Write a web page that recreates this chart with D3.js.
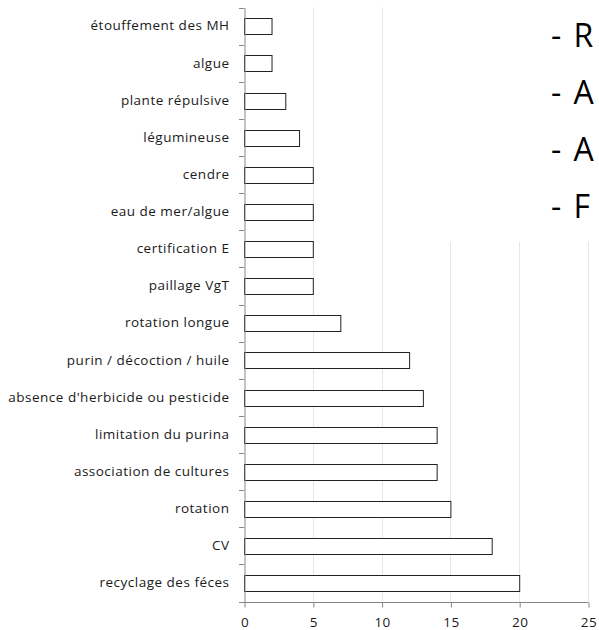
<!DOCTYPE html>
<html><head><meta charset="utf-8">
<script src="https://cdn.jsdelivr.net/npm/d3@7"></script>
<style>
html,body{margin:0;padding:0;background:#fff;}
svg{display:block;font-family:"Open Sans",sans-serif;}
</style></head><body>
<svg id="chart" width="599" height="630"></svg>
<script>
const categories = ["étouffement des MH","algue","plante répulsive","légumineuse","cendre","eau de mer/algue","certification E","paillage VgT","rotation longue","purin / décoction / huile","absence d'herbicide ou pesticide","limitation du purina","association de cultures","rotation","CV","recyclage des féces"];
const values = [2,2,3,4,5,5,5,5,7,12,13,14,14,15,18,20];
const xTicks = [0,5,10,15,20,25];
const overlayLines = ["- R","- A","- A","- F"];

const svg = d3.select("#chart");
const pL = 244, pR = 588, pT = 7.5, pB = 601.5;

const x = d3.scaleLinear().domain([0,25]).range([pL,pR]);
const y = d3.scaleBand().domain(categories).range([pT,pB]).paddingInner(0.58).paddingOuter(0.29);
const yb = d3.scaleBand().domain(categories).range([pT,pB]);

// gridlines
svg.append("g").selectAll("line").data(xTicks.slice(1)).join("line")
  .attr("x1",d=>Math.round(x(d))+0.5).attr("x2",d=>Math.round(x(d))+0.5)
  .attr("y1",pT).attr("y2",pB)
  .attr("stroke","#e6e6e6").attr("stroke-width",1);

// bars
svg.append("g").selectAll("rect").data(categories).join("rect")
  .attr("x",x(0)+0.5)
  .attr("y",(d)=>Math.round(y(d))+0.5)
  .attr("width",(d,i)=>x(values[i])-x(0))
  .attr("height",Math.round(y.bandwidth()))
  .attr("fill","#fff").attr("stroke","#222").attr("stroke-width",1);

// y axis
const yAxis = d3.axisLeft(yb).tickSize(0).tickPadding(15);
const gy = svg.append("g").attr("transform",`translate(${pL+0.5},0)`).call(yAxis);
gy.select(".domain").attr("stroke","#868686");
gy.selectAll("text").attr("font-size","13.5px").attr("letter-spacing","0.5px").attr("fill","#1a1a1a").attr("font-family","'Open Sans',sans-serif");
// band boundary ticks
svg.append("g").selectAll("line").data(d3.range(categories.length+1)).join("line")
  .attr("x1",pL-5).attr("x2",pL)
  .attr("y1",i=>Math.round(pT+i*yb.step())+0.5).attr("y2",i=>Math.round(pT+i*yb.step())+0.5)
  .attr("stroke","#868686");

// x axis
const xAxis = d3.axisBottom(x).tickValues(xTicks).tickSize(5).tickPadding(10).tickFormat(d3.format("d"));
const gx = svg.append("g").attr("transform",`translate(0.5,${Math.round(pB)+0.5})`).call(xAxis);
gx.select(".domain").attr("stroke","#868686").attr("d",`M${pL-5},0H${pR}`);
gx.selectAll(".tick line").attr("stroke","#868686");
gx.selectAll("text").attr("font-size","13.5px").attr("letter-spacing","0.5px").attr("fill","#1a1a1a").attr("font-family","'Open Sans',sans-serif");

// overlay text box
svg.append("rect").attr("x",445).attr("y",0).attr("width",154).attr("height",242).attr("fill","#fff");
svg.append("g").selectAll("text").data(overlayLines).join("text")
  .attr("x",551).attr("y",(d,i)=>47+i*57)
  .attr("font-size","32px").attr("letter-spacing","2px").attr("fill","#000")
  .text(d=>d);
</script>
</body></html>
